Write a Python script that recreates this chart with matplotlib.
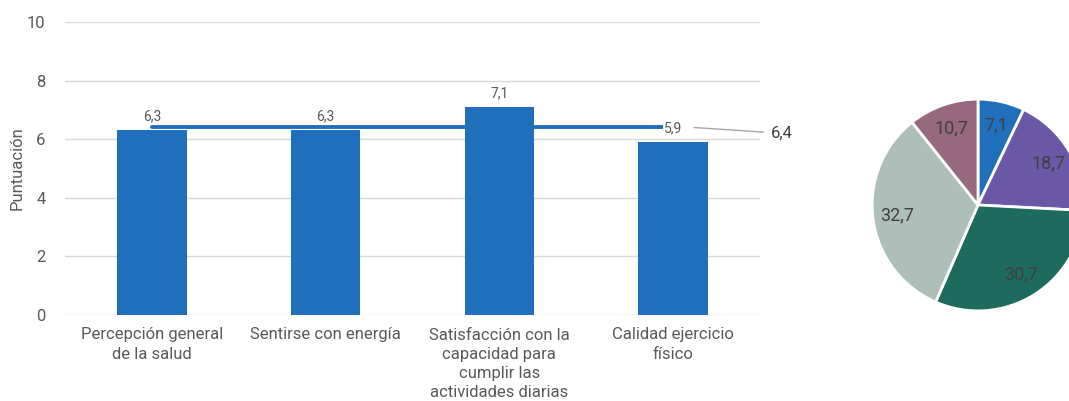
import numpy as np
import matplotlib.pyplot as plt

plt.rcParams['font.family'] = ['Roboto', 'DejaVu Sans']

# bar chart data
categorias = ["Percepción general\nde la salud",
              "Sentirse con energía",
              "Satisfacción con la\ncapacidad para\ncumplir las\nactividades diarias",
              "Calidad ejercicio\nfísico"]
puntuacion = [6.3, 6.3, 7.1, 5.9]
y_ticks = [0, 2, 4, 6, 8, 10]

# pie chart data (clockwise from the top)
pie_valores = [7.1, 18.7, 30.7, 32.7, 10.7]
pie_colores = ['#1F6FBB', '#6A57A5', '#1D6A5E', '#AEBFBA', '#97697F']

AZUL = '#1F6FBB'
TEXTO = '#595959'


def coma(v):
    return f"{v:.1f}".replace('.', ',')


fig = plt.figure(figsize=(10.69, 4.01), dpi=100)

# --- bars ---
ax = fig.add_axes([65/1069, 1 - 315/401, 695/1069, 293/401])
x = np.arange(len(categorias))
bars = ax.bar(x, puntuacion, width=0.4, color=AZUL, zorder=2)
ax.set_xlim(-0.5, len(categorias) - 0.5)
ax.set_ylim(0, 10)
ax.set_yticks(y_ticks)
ax.grid(axis='y', color='#D9D9D9', lw=1, zorder=0)
for s in ax.spines.values():
    s.set_visible(False)
ax.tick_params(length=0, labelsize=12, colors=TEXTO)
ax.tick_params(axis='x', pad=9)
ax.tick_params(axis='y', pad=14)
ax.set_xticks(x)
ax.set_xticklabels(categorias, linespacing=1.35)
ax.set_ylabel("Puntuación", fontsize=12, color=TEXTO, labelpad=2)

# average line across the categories
media = np.mean(puntuacion)
ax.plot([x[0], x[-1]], [media, media], color=AZUL, lw=2.8,
        solid_capstyle='round', zorder=3)

for xi, v in zip(x, puntuacion):
    ax.annotate(coma(v), (xi, v), xytext=(0, 5), textcoords='offset points',
                ha='center', va='bottom', fontsize=10, color=TEXTO, zorder=4,
                bbox=dict(boxstyle='square,pad=0.05', fc='white', ec='none'))

ax.annotate(coma(media), xy=(3.12, media), xytext=(3.56, media - 0.2),
            ha='left', va='center', fontsize=12, color='#404040',
            annotation_clip=False,
            arrowprops=dict(arrowstyle='-', color='#A6A6A6', lw=1,
                            shrinkA=3, shrinkB=0))

# --- pie ---
pax = fig.add_axes([870/1069, 1 - 313/401, 216/1069, 216/401])
wedges, textos = pax.pie(pie_valores, colors=pie_colores, startangle=90,
                         counterclock=False, labels=[coma(v) for v in pie_valores],
                         labeldistance=0.77,
                         wedgeprops=dict(edgecolor='white', linewidth=2))
for t in textos:
    t.set_fontsize(13)
    t.set_color('#404040')
    t.set_ha('center')
    t.set_va('center')
pax.set_xlim(-1.02, 1.02)
pax.set_ylim(-1.02, 1.02)
pax.set_aspect('equal')

fig.savefig('out.png', dpi=100)
